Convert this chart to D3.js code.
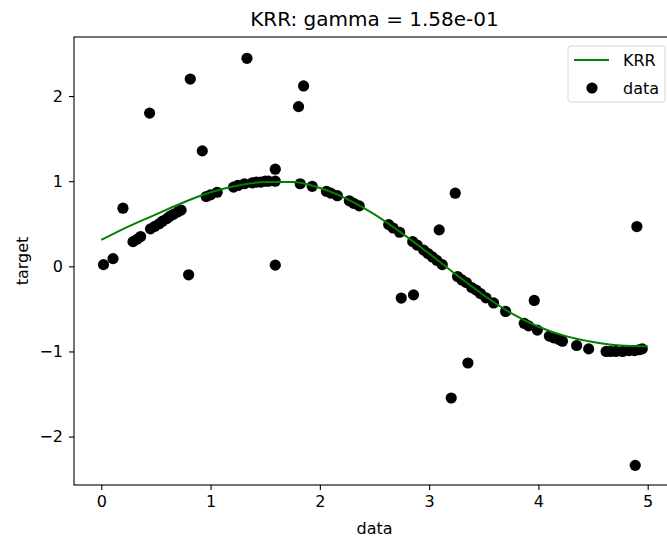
<!DOCTYPE html>
<html>
<head>
<meta charset="utf-8">
<script src="https://cdn.jsdelivr.net/npm/d3@7"></script>
<style>
  body { margin: 0; background: #fff; }
  svg { font-family: "DejaVu Sans", sans-serif; }
</style>
</head>
<body>
<div id="viz"></div>
<script>
// scatter points
var dataX = [0.02, 0.107, 0.29, 0.33, 0.36, 0.45, 0.49, 0.53, 0.56, 0.60, 0.63, 0.66, 0.70, 0.73,
  0.96, 1.00, 1.06, 1.21, 1.25, 1.31, 1.38, 1.42, 1.46, 1.50, 1.53, 1.592, 1.82, 1.93,
  2.06, 2.10, 2.16, 2.27, 2.31, 2.36, 2.63, 2.67, 2.73, 2.85, 2.89, 2.95, 2.99,
  3.03, 3.07, 3.12, 3.26, 3.30, 3.34, 3.39, 3.43, 3.47, 3.52, 3.59, 3.70, 3.87, 3.91, 3.99,
  4.10, 4.14, 4.19, 4.22, 4.35, 4.46, 4.62, 4.66, 4.71, 4.77, 4.83, 4.88, 4.92, 4.95,
  // noisy ones
  0.198, 0.442, 0.799, 0.814, 0.924, 1.333, 1.592, 1.592, 1.805, 1.851,
  2.745, 2.857, 3.092, 3.202, 3.239, 3.355, 3.962, 4.886, 4.901];
var dataY = [0.02, 0.09, 0.29, 0.32, 0.35, 0.44, 0.47, 0.50, 0.53, 0.56, 0.59, 0.61, 0.64, 0.66,
  0.82, 0.84, 0.87, 0.93, 0.95, 0.97, 0.98, 0.99, 0.99, 1.00, 1.00, 1.00, 0.97, 0.94,
  0.88, 0.86, 0.83, 0.77, 0.74, 0.71, 0.49, 0.45, 0.40, 0.29, 0.25, 0.19, 0.15,
  0.11, 0.07, 0.02, -0.12, -0.16, -0.19, -0.25, -0.28, -0.32, -0.37, -0.43, -0.53, -0.67, -0.70, -0.75,
  -0.82, -0.84, -0.86, -0.88, -0.93, -0.97, -1.00, -1.00, -1.00, -1.00, -0.99, -0.99, -0.98, -0.97,
  0.683, 1.80, -0.10, 2.20, 1.356, 2.444, 1.141, 0.014, 1.876, 2.119,
  -0.373, -0.335, 0.428, -1.547, 0.859, -1.136, -0.401, -2.338, 0.467];

// KRR prediction
var krrX = [0, 0.25, 0.5, 0.75, 1.0, 1.25, 1.5, 1.75, 2.0, 2.25, 2.5, 2.75, 3.0, 3.25, 3.5, 3.75, 4.0, 4.25, 4.5, 4.75, 5.0];
var krrY = [0.31, 0.47, 0.61, 0.75, 0.87, 0.95, 0.99, 0.99, 0.92, 0.79, 0.61, 0.39, 0.15, -0.10, -0.34, -0.55, -0.71, -0.82, -0.89, -0.93, -0.94];

var xTicks = [0, 1, 2, 3, 4, 5];
var yTicks = [-2, -1, 0, 1, 2];

var W = 667, H = 537;
var margin = {top: 37, right: -8, bottom: 52, left: 74},
    width = W - margin.left - margin.right,
    height = H - margin.top - margin.bottom;

var x = d3.scaleLinear().domain([-0.25, 5.25]).range([0, width]);
var y = d3.scaleLinear().domain([-2.569, 2.694]).range([height, 0]);

var svg = d3.select("#viz").append("svg")
    .attr("width", W)
    .attr("height", H)
    .style("display", "block");

var g = svg.append("g")
    .attr("transform", "translate(" + margin.left + "," + margin.top + ")");

var fmt = function(d) { return d < 0 ? "\u2212" + Math.abs(d) : "" + d; };

// axes
var xAxis = g.append("g")
    .attr("transform", "translate(0," + height + ")")
    .call(d3.axisBottom(x).tickValues(xTicks).tickFormat(fmt).tickSizeOuter(0).tickSize(5).tickPadding(6));
var yAxis = g.append("g")
    .call(d3.axisLeft(y).tickValues(yTicks).tickFormat(fmt).tickSizeOuter(0).tickSize(5).tickPadding(6));

[xAxis, yAxis].forEach(function(a) {
  a.select(".domain").remove();
  a.selectAll("line").attr("stroke", "#000").attr("stroke-width", 1.1);
  a.selectAll("text").attr("fill", "#000").style("font-size", "16px").style("font-family", "DejaVu Sans");
});

// spines
g.append("rect")
    .attr("x", 0).attr("y", 0)
    .attr("width", width).attr("height", height)
    .attr("fill", "none")
    .attr("stroke", "#000")
    .attr("stroke-width", 1.1);

// the KRR line
var line = d3.line()
    .x(function(d, i) { return x(krrX[i]); })
    .y(function(d) { return y(d); })
    .curve(d3.curveMonotoneX);

// data points
g.selectAll("circle.pt")
    .data(dataX)
  .enter().append("circle")
    .attr("class", "pt")
    .attr("cx", function(d) { return x(d); })
    .attr("cy", function(d, i) { return y(dataY[i]); })
    .attr("r", 5.6)
    .attr("fill", "#000");

g.append("path")
    .datum(krrY)
    .attr("d", line)
    .attr("fill", "none")
    .attr("stroke", "#008000")
    .attr("stroke-width", 2);

// labels
svg.append("text")
    .attr("x", margin.left + width / 2)
    .attr("y", 26)
    .attr("text-anchor", "middle")
    .style("font-size", "20px")
    .text("KRR: gamma = 1.58e-01");

svg.append("text")
    .attr("x", margin.left + width / 2)
    .attr("y", 534)
    .attr("text-anchor", "middle")
    .style("font-size", "16px")
    .text("data");

svg.append("text")
    .attr("transform", "translate(28," + (margin.top + height / 2) + ") rotate(-90)")
    .attr("text-anchor", "middle")
    .style("font-size", "16px")
    .text("target");

// legend
var leg = svg.append("g").attr("transform", "translate(568,46)");
leg.append("rect")
    .attr("width", 97).attr("height", 56)
    .attr("rx", 3)
    .attr("fill", "#fff").attr("fill-opacity", 0.8)
    .attr("stroke", "#d6d6d6");
leg.append("line")
    .attr("x1", 6).attr("x2", 41).attr("y1", 14).attr("y2", 14)
    .attr("stroke", "#008000").attr("stroke-width", 2);
leg.append("circle")
    .attr("cx", 24).attr("cy", 42).attr("r", 5.6).attr("fill", "#000");
leg.append("text").attr("x", 55).attr("y", 20).style("font-size", "16px").text("KRR");
leg.append("text").attr("x", 55).attr("y", 48).style("font-size", "16px").text("data");
</script>
</body>
</html>
